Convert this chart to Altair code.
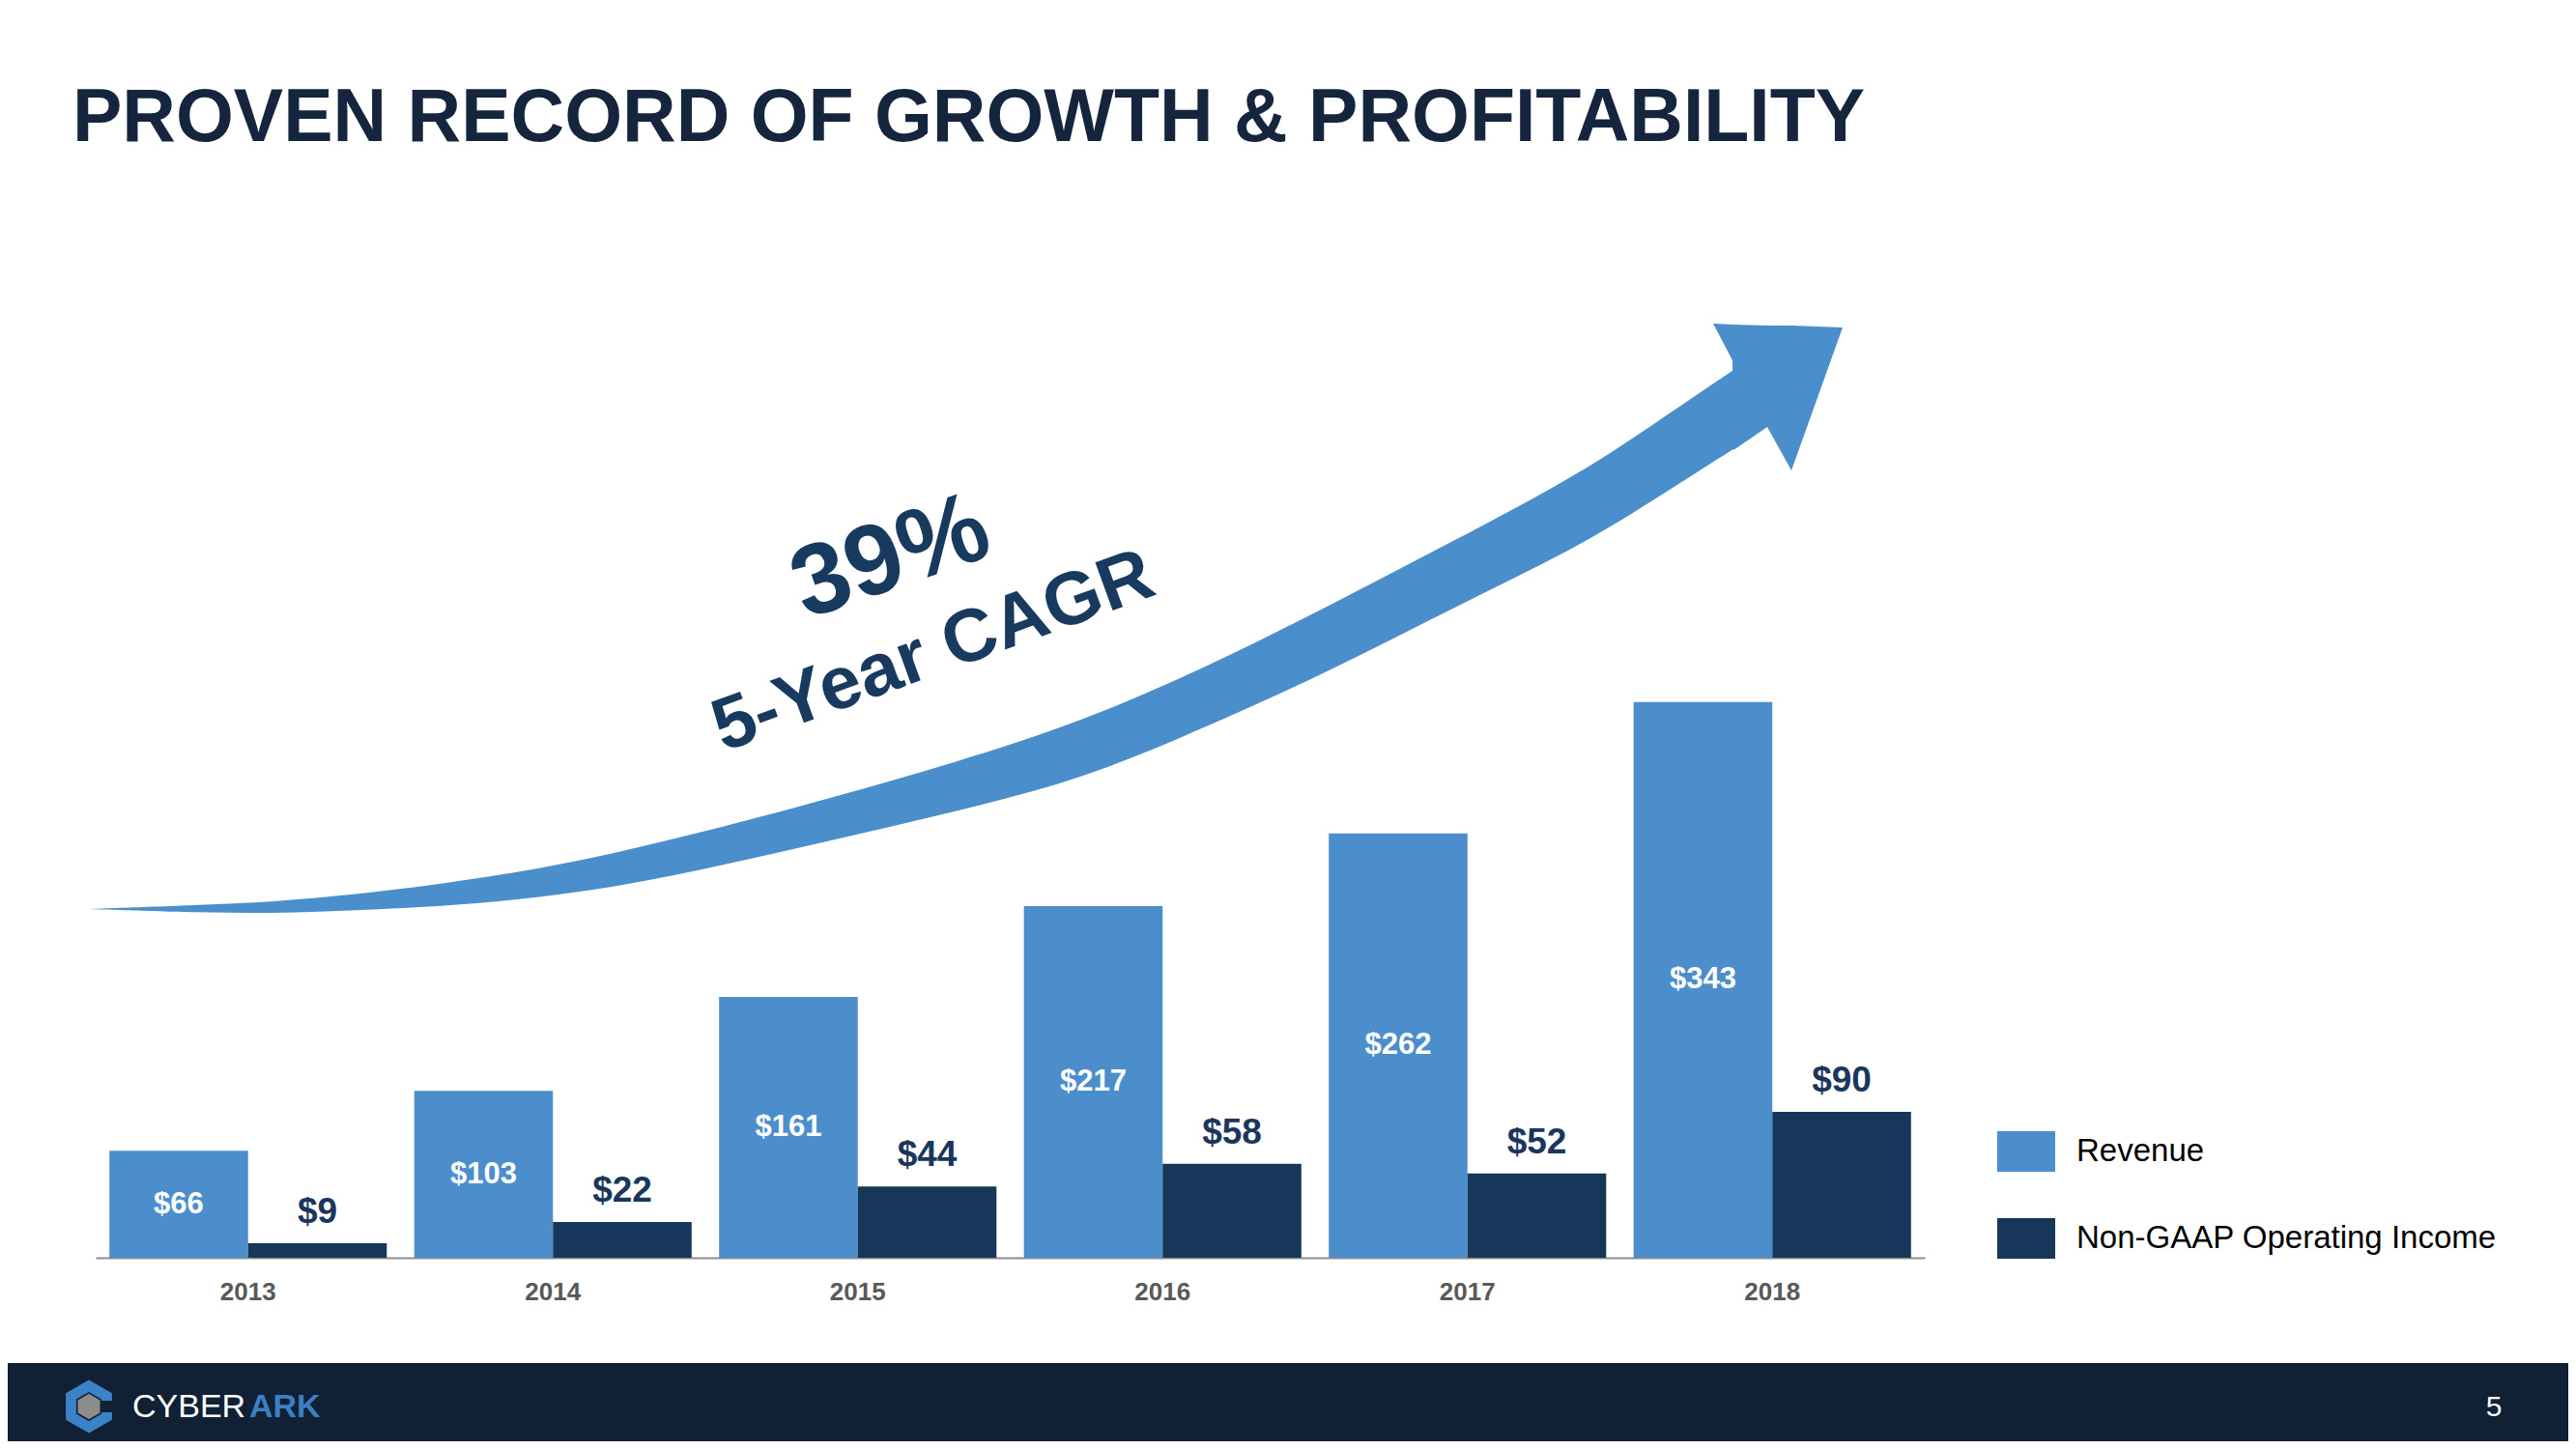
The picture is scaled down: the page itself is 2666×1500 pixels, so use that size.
import altair as alt
import pandas as pd

# ---------------- data ----------------
years = ["2013", "2014", "2015", "2016", "2017", "2018"]
revenue = [66, 103, 161, 217, 262, 343]
income = [9, 22, 44, 58, 52, 90]
series_names = ["Revenue", "Non-GAAP Operating Income"]

title_text = "PROVEN RECORD OF GROWTH & PROFITABILITY"
cagr_value = "39%"
cagr_label = "5-Year CAGR"
logo_a = "CYBER"
logo_b = "ARK"
page_no = "5"

# decorative growth arrow (canvas pixels): body edges and arrow head
body_x = [84, 172, 272, 372, 472, 592, 722, 852, 982, 1112, 1242, 1372, 1502, 1632, 1712, 1789]
body_top = [933, 930, 926, 917, 904, 884, 853, 818, 781, 739, 682, 617, 549, 480, 425, 373]
body_bottom = [933, 936, 938, 934, 929, 917, 892, 862, 832, 799, 744, 685, 618, 555, 504, 455]
head_x = [1765, 1785, 1786, 1821, 1846, 1899]
head_top = [327, 328, 328, 329, 329, 331]
head_bottom = [327, 365, 458, 434, 479, 331]

# ---------------- styles ----------------
W, H = 2650, 1484
REV_COLOR = "#4C8ECC"
INC_COLOR = "#17375A"
ARROW_COLOR = "#4A8ECC"
TITLE_COLOR = "#14253D"
CAGR_COLOR = "#173A5E"
FOOTER_COLOR = "#112135"
FONT = "Liberation Sans"

rows = []
for i, yr in enumerate(years):
    rows.append({"year": yr, "series": series_names[0], "value": revenue[i]})
    rows.append({"year": yr, "series": series_names[1], "value": income[i]})
bars_df = pd.DataFrame(rows)

x_scale = alt.Scale(domain=years, range=[91, 1984], paddingInner=0.09, paddingOuter=0.045)
off_scale = alt.Scale(domain=series_names, paddingInner=0, paddingOuter=0)
y_scale = alt.Scale(domain=[0, 400], range=[1294, 623.2], nice=False, zero=True)
px_x = alt.Scale(domain=[0, W], range=[0, W], nice=False, zero=False)
px_y = alt.Scale(domain=[0, H], range=[0, H], nice=False, zero=False)

bars = alt.Chart(bars_df).mark_bar().encode(
    x=alt.X("year:N", scale=x_scale, title=None,
            axis=alt.Axis(labelAngle=0, labelFont=FONT, labelFontSize=26, labelFontWeight="bold",
                          labelColor="#595959", ticks=False, domainColor="#8C8C8C", domainWidth=2,
                          labelPadding=22, offset=-190, grid=False)),
    xOffset=alt.XOffset("series:N", scale=off_scale),
    y=alt.Y("value:Q", scale=y_scale, axis=None),
    color=alt.Color("series:N",
                    scale=alt.Scale(domain=series_names, range=[REV_COLOR, INC_COLOR]),
                    legend=alt.Legend(title=None, orient="none", direction="vertical",
                                      legendX=2059, legendY=1154,
                                      symbolType="M-1,-0.7H1V0.7H-1Z", symbolSize=3600,
                                      symbolStrokeWidth=0, symbolOpacity=1,
                                      labelFont=FONT, labelFontSize=33, labelColor="#000000",
                                      labelLimit=0, labelOffset=22, rowPadding=39, padding=0)),
)

rev_labels = alt.Chart(bars_df).transform_filter(
    alt.datum.series == series_names[0]
).transform_calculate(
    mid="datum.value / 2", label="'$' + datum.value"
).mark_text(font=FONT, fontSize=31, fontWeight="bold", color="#FFFFFF", baseline="middle").encode(
    x=alt.X("year:N", scale=x_scale, axis=None),
    xOffset=alt.XOffset("series:N", scale=off_scale),
    y=alt.Y("mid:Q", scale=y_scale, axis=None),
    text="label:N",
)

inc_labels = alt.Chart(bars_df).transform_filter(
    alt.datum.series == series_names[1]
).transform_calculate(
    label="'$' + datum.value"
).mark_text(font=FONT, fontSize=37, fontWeight="bold", color="#1B365D", baseline="middle", dy=-32).encode(
    x=alt.X("year:N", scale=x_scale, axis=None),
    xOffset=alt.XOffset("series:N", scale=off_scale),
    y=alt.Y("value:Q", scale=y_scale, axis=None),
    text="label:N",
)

body_df = pd.DataFrame({"bx": body_x, "bt": body_top, "bb": body_bottom})
body = alt.Chart(body_df).mark_area(color=ARROW_COLOR, interpolate="basis").encode(
    x=alt.X("bx:Q", scale=px_x, axis=None),
    y=alt.Y("bt:Q", scale=px_y, axis=None),
    y2="bb:Q",
)

head_df = pd.DataFrame({"hx": head_x, "ht": head_top, "hb": head_bottom})
head = alt.Chart(head_df).mark_area(color=ARROW_COLOR, interpolate="linear").encode(
    x=alt.X("hx:Q", scale=px_x, axis=None),
    y=alt.Y("ht:Q", scale=px_y, axis=None),
    y2="hb:Q",
)

one = pd.DataFrame({"k": [0]})


def deco_text(text, x, y, **kw):
    return alt.Chart(one).mark_text(text=text, **kw).encode(x=alt.value(x), y=alt.value(y))


title = deco_text(title_text, 67, 138, font=FONT, fontSize=77, fontWeight="bold",
                  color=TITLE_COLOR, align="left", baseline="alphabetic")
cagr1 = deco_text(cagr_value, 914, 570, font=FONT, fontSize=104, fontWeight="bold",
                  color=CAGR_COLOR, align="center", baseline="middle", angle=341)
cagr2 = deco_text(cagr_label, 958, 667, font=FONT, fontSize=77, fontWeight="bold",
                  color=CAGR_COLOR, align="center", baseline="middle", angle=340)

footer = alt.Chart(one).mark_rect(color=FOOTER_COLOR).encode(
    x=alt.value(0), x2=alt.value(W), y=alt.value(1403), y2=alt.value(H)
)
icon_c = alt.Chart(one).mark_point(
    shape="M0.87,-0.22L0.87,-0.5L0,-1L-0.87,-0.5L-0.87,0.5L0,1L0.87,0.5L0.87,0.22L0.476,0.22L0.476,0.275L0,0.55L-0.476,0.275L-0.476,-0.275L0,-0.55L0.476,-0.275L0.476,-0.22Z",
    filled=True, size=3025, color="#3B82C8", opacity=1, strokeWidth=0,
).encode(x=alt.value(84), y=alt.value(1448))
icon_cube = alt.Chart(one).mark_point(
    shape="M0,-1L0.87,-0.5L0.87,0.5L0,1L-0.87,0.5L-0.87,-0.5Z",
    filled=True, size=700, color="#8C8C8C", opacity=1, strokeWidth=0,
).encode(x=alt.value(84), y=alt.value(1448))
logo1 = deco_text(logo_a, 129, 1449, font=FONT, fontSize=34, color="#FFFFFF",
                  align="left", baseline="middle")
logo2 = deco_text(logo_b, 250, 1449, font=FONT, fontSize=34, fontWeight="bold", color="#3B7FC4",
                  align="left", baseline="middle")
pnum = deco_text(page_no, 2573, 1449, font=FONT, fontSize=30, color="#FFFFFF",
                 align="center", baseline="middle")

chart = alt.layer(
    body, head, cagr1, cagr2, title, bars, rev_labels, inc_labels,
    footer, icon_c, icon_cube, logo1, logo2, pnum,
).resolve_scale(
    x="independent", y="independent"
).properties(
    width=W, height=H, autosize=alt.AutoSizeParams(type="none"), padding=0
).configure_view(stroke=None)

chart.save("out.html", embed_options={"renderer": "svg", "actions": False})
